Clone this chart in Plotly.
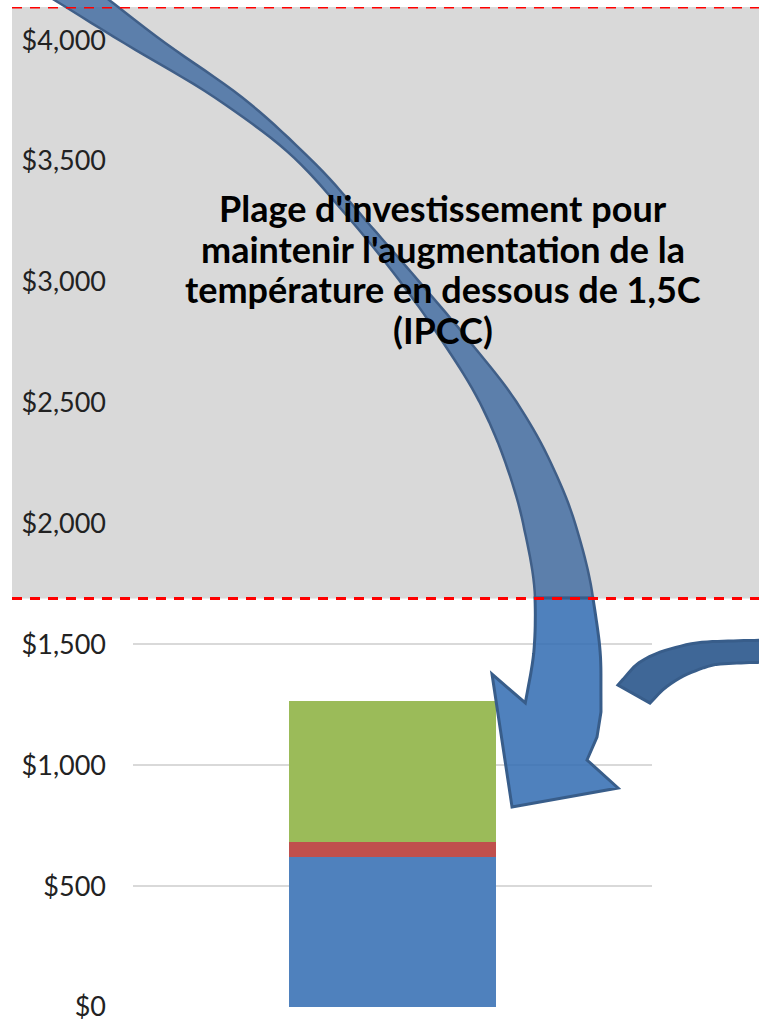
import numpy as np
import plotly.graph_objects as go

# ---- data ----
categories = [""]
blue_vals = [620]
red_vals = [62]
green_vals = [583]
ipcc_low = 1690
ipcc_high = 4137
tick_vals = [0, 500, 1000, 1500, 2000, 2500, 3000, 3500, 4000]
tick_text = ["$0", "$500", "$1,000", "$1,500", "$2,000", "$2,500", "$3,000", "$3,500", "$4,000"]
annotation_lines = ["Plage d'investissement pour",
                    "maintenir l'augmentation de la",
                    "température en dessous de 1,5C",
                    "(IPCC)"]

# ---- layout geometry (pixels) ----
W, H = 759, 1022
L, R, T, B = 133, 107, 7, 15
PW, PH = W - L - R, H - T - B


def px(x):
    return (x - L) / PW


def py(y):
    return (H - B - y) / PH


def P(pt):
    return "%.4f,%.4f" % (px(pt[0]), py(pt[1]))


def poly_path(pts):
    return "M " + " L ".join(P(p) for p in pts) + " Z"


def pchip(xk, yk, xs):
    """Monotone cubic (Fritsch-Carlson) interpolation, no overshoot."""
    xk = np.asarray(xk, float)
    yk = np.asarray(yk, float)
    h = np.diff(xk)
    d = np.diff(yk) / h
    n = len(xk)
    m = np.zeros(n)
    m[0], m[-1] = d[0], d[-1]
    for i in range(1, n - 1):
        if d[i - 1] * d[i] <= 0:
            m[i] = 0.0
        else:
            w1 = 2 * h[i] + h[i - 1]
            w2 = h[i] + 2 * h[i - 1]
            m[i] = (w1 + w2) / (w1 / d[i - 1] + w2 / d[i])
    out = []
    for x in np.atleast_1d(xs):
        i = int(np.clip(np.searchsorted(xk, x) - 1, 0, n - 2))
        t = (x - xk[i]) / h[i]
        h00 = 2 * t ** 3 - 3 * t ** 2 + 1
        h10 = t ** 3 - 2 * t ** 2 + t
        h01 = -2 * t ** 3 + 3 * t ** 2
        h11 = t ** 3 - t ** 2
        out.append(h00 * yk[i] + h10 * h[i] * m[i] + h01 * yk[i + 1] + h11 * h[i] * m[i + 1])
    return np.array(out)


fig = go.Figure()
fig.add_trace(go.Bar(x=categories, y=blue_vals, marker_color="#4f81bd", marker_line_width=0))
fig.add_trace(go.Bar(x=categories, y=red_vals, marker_color="#c0504d", marker_line_width=0))
fig.add_trace(go.Bar(x=categories, y=green_vals, marker_color="#9bbb59", marker_line_width=0))

shapes = []
# gray IPCC band
shapes.append(dict(type="rect", xref="paper", yref="y", x0=px(12), x1=px(W + 5),
                   y0=ipcc_low, y1=ipcc_high, fillcolor="#d9d9d9", line_width=0, layer="below"))

# big curved arrow (decoration): centreline and horizontal width in pixels
c_y = [-4, 40, 100, 161, 220, 282, 340, 402, 460, 523, 598, 650, 705]
c_x = [76, 140, 232, 305, 358, 410, 455, 498, 527, 549, 564, 567, 563]
w_h = [56, 42, 27, 15, 15, 19, 27, 37, 45, 52, 58, 66, 76]
split_y = 598


def right_edge(y0, y1, n):
    ys = np.linspace(y0, y1, n)
    xs = pchip(c_y, c_x, ys) + pchip(c_y, w_h, ys) / 2
    return [(float(a), float(b)) for a, b in zip(xs, ys)]


def left_edge(y0, y1, n):
    ys = np.linspace(y0, y1, n)
    xs = pchip(c_y, c_x, ys) - pchip(c_y, w_h, ys) / 2
    return [(float(a), float(b)) for a, b in zip(xs, ys)]


upper = right_edge(-4, split_y, 90) + left_edge(split_y, -4, 90)
lower = (right_edge(split_y, 690, 18) + [(601, 712), (597, 737), (587, 760), (618, 788),
                                         (512, 807), (492, 674)]
         + left_edge(703, split_y, 20))
shapes.append(dict(type="path", xref="paper", yref="paper", path=poly_path(upper),
                   fillcolor="rgba(69,111,162,0.85)", line=dict(color="#405f88", width=2.5),
                   layer="above"))
shapes.append(dict(type="path", xref="paper", yref="paper", path=poly_path(lower),
                   fillcolor="rgba(48,107,178,0.85)", line=dict(color="#385d8a", width=3),
                   layer="above"))

# small arrow tail on the right
ux = np.linspace(618, 770, 30)
uy = pchip([618, 640, 670, 705, 770], [685, 662, 649, 642, 640], ux)
lx = np.linspace(770, 650, 30)
ly = pchip([650, 665, 690, 720, 770], [703, 688, 673, 664, 662], lx)
small = [(float(a), float(b)) for a, b in zip(ux, uy)] + [(float(a), float(b)) for a, b in zip(lx, ly)]
shapes.append(dict(type="path", xref="paper", yref="paper", path=poly_path(small),
                   fillcolor="#3f6797", line=dict(color="#385d8a", width=3), layer="above"))

# red dashed bounds
for v in (ipcc_low, ipcc_high):
    shapes.append(dict(type="line", xref="paper", yref="y", x0=px(12), x1=px(W + 5), y0=v, y1=v,
                       line=dict(color="#ff0000", width=3, dash="10px,8px"), layer="above"))

line_centers = [208, 249, 289, 330]
annotations = [dict(text=t, xref="paper", yref="paper", x=px(443), y=py(yc),
                    xanchor="center", yanchor="middle", showarrow=False,
                    font=dict(family="Lato", size=36, color="#000000", weight="bold"))
               for t, yc in zip(annotation_lines, line_centers)]

fig.update_layout(
    width=W, height=H, autosize=False,
    margin=dict(l=L, r=R, t=T, b=B, pad=0),
    barmode="stack", bargap=0.6, showlegend=False,
    paper_bgcolor="white", plot_bgcolor="rgba(0,0,0,0)",
    font=dict(family="Lato", size=27, color="#222222"),
    shapes=shapes,
    annotations=annotations,
)
fig.update_yaxes(range=[0, ipcc_high], tickmode="array", tickvals=tick_vals, ticktext=tick_text,
                 showgrid=True, gridcolor="#d9d9d9", gridwidth=2, zeroline=False,
                 showline=False, ticks="", ticklabelstandoff=26, ticklabeloverflow="allow",
                 automargin=False)
fig.update_xaxes(showticklabels=False, showgrid=False, zeroline=False, showline=False,
                 automargin=False)

fig.write_html("out.html", config={"displayModeBar": False},
               post_script="document.body.style.margin='0';")
